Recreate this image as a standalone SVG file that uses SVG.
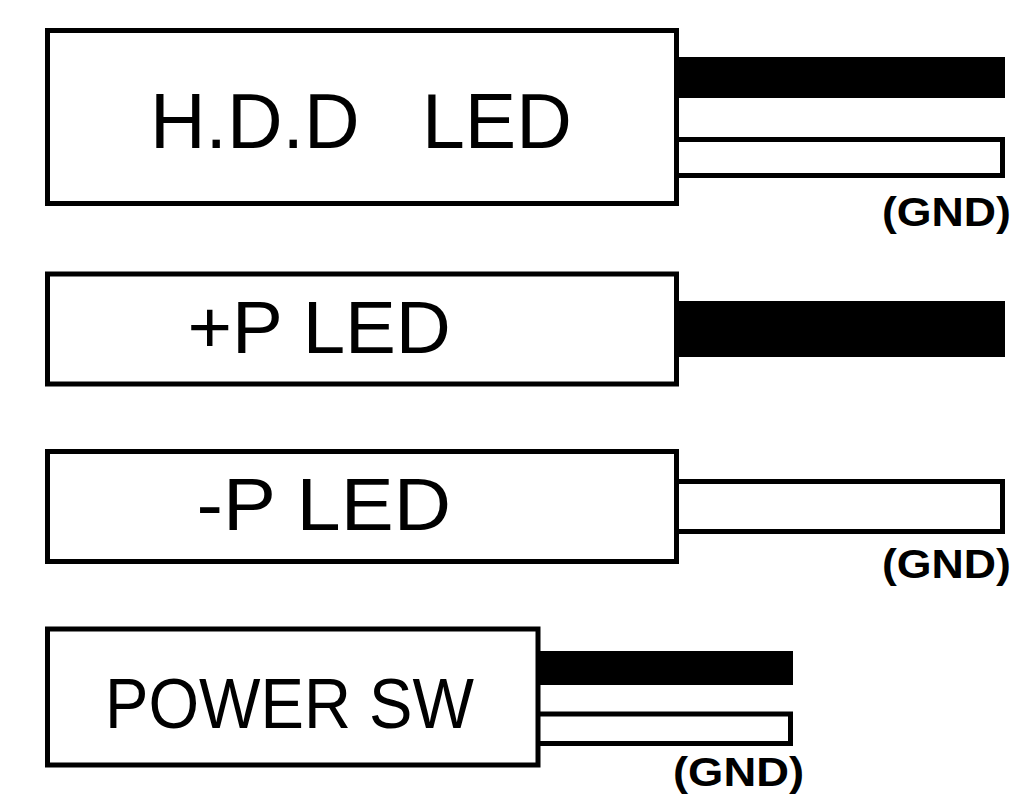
<svg xmlns="http://www.w3.org/2000/svg" width="1024" height="796" viewBox="0 0 1024 796">
  <style>
    .box { fill: #ffffff; stroke: #000000; stroke-width: 5; }
    .wire-black { fill: #000000; stroke: none; }
    .wire-white { fill: #ffffff; stroke: #000000; stroke-width: 5; }
    .label { font-family: "Liberation Sans", Arial, sans-serif; fill: #000000; }
    .gnd { font-family: "Liberation Sans", Arial, sans-serif; font-weight: bold; font-size: 40px; fill: #000000; }
  </style>
  <rect x="0" y="0" width="1024" height="796" fill="#ffffff"/>

  <g id="connectors">
    <rect class="wire-black" x="676" y="57" width="329" height="41"/>
    <rect class="wire-white" x="676" y="139.5" width="326.5" height="36"/>
    <rect class="wire-black" x="676" y="301" width="329" height="56"/>
    <rect class="wire-white" x="676" y="481.5" width="326.5" height="50"/>
    <rect class="wire-black" x="536" y="651" width="257" height="34"/>
    <rect class="wire-white" x="536" y="714" width="254.5" height="29.5"/>
  </g>

  <g id="hdd-led">
    <rect class="box" x="47.5" y="30.5" width="629" height="173"/>
    <text class="label" x="150" y="148.3" font-size="77"><tspan>H.D.D </tspan><tspan x="422">LED</tspan></text>
  </g>

  <g id="plus-p-led">
    <rect class="box" x="47.5" y="274" width="629" height="110"/>
    <text class="label" x="187.5" y="353.3" font-size="73.5" textLength="263.4" lengthAdjust="spacingAndGlyphs">+P LED</text>
  </g>

  <g id="minus-p-led">
    <rect class="box" x="47.5" y="451.5" width="629" height="110"/>
    <text class="label" x="196.5" y="530" font-size="74.5" textLength="254.5" lengthAdjust="spacingAndGlyphs">-P LED</text>
  </g>

  <g id="power-sw">
    <rect class="box" x="47.5" y="629" width="490.5" height="136"/>
    <text class="label" x="105" y="728.3" font-size="70.7" textLength="369" lengthAdjust="spacingAndGlyphs">POWER SW</text>
  </g>

  <g id="gnd-labels">
    <text class="gnd" x="882" y="226" textLength="129" lengthAdjust="spacingAndGlyphs">(GND)</text>
    <text class="gnd" x="882" y="578" textLength="129" lengthAdjust="spacingAndGlyphs">(GND)</text>
    <text class="gnd" x="673" y="786" textLength="131" lengthAdjust="spacingAndGlyphs">(GND)</text>
  </g>
</svg>
